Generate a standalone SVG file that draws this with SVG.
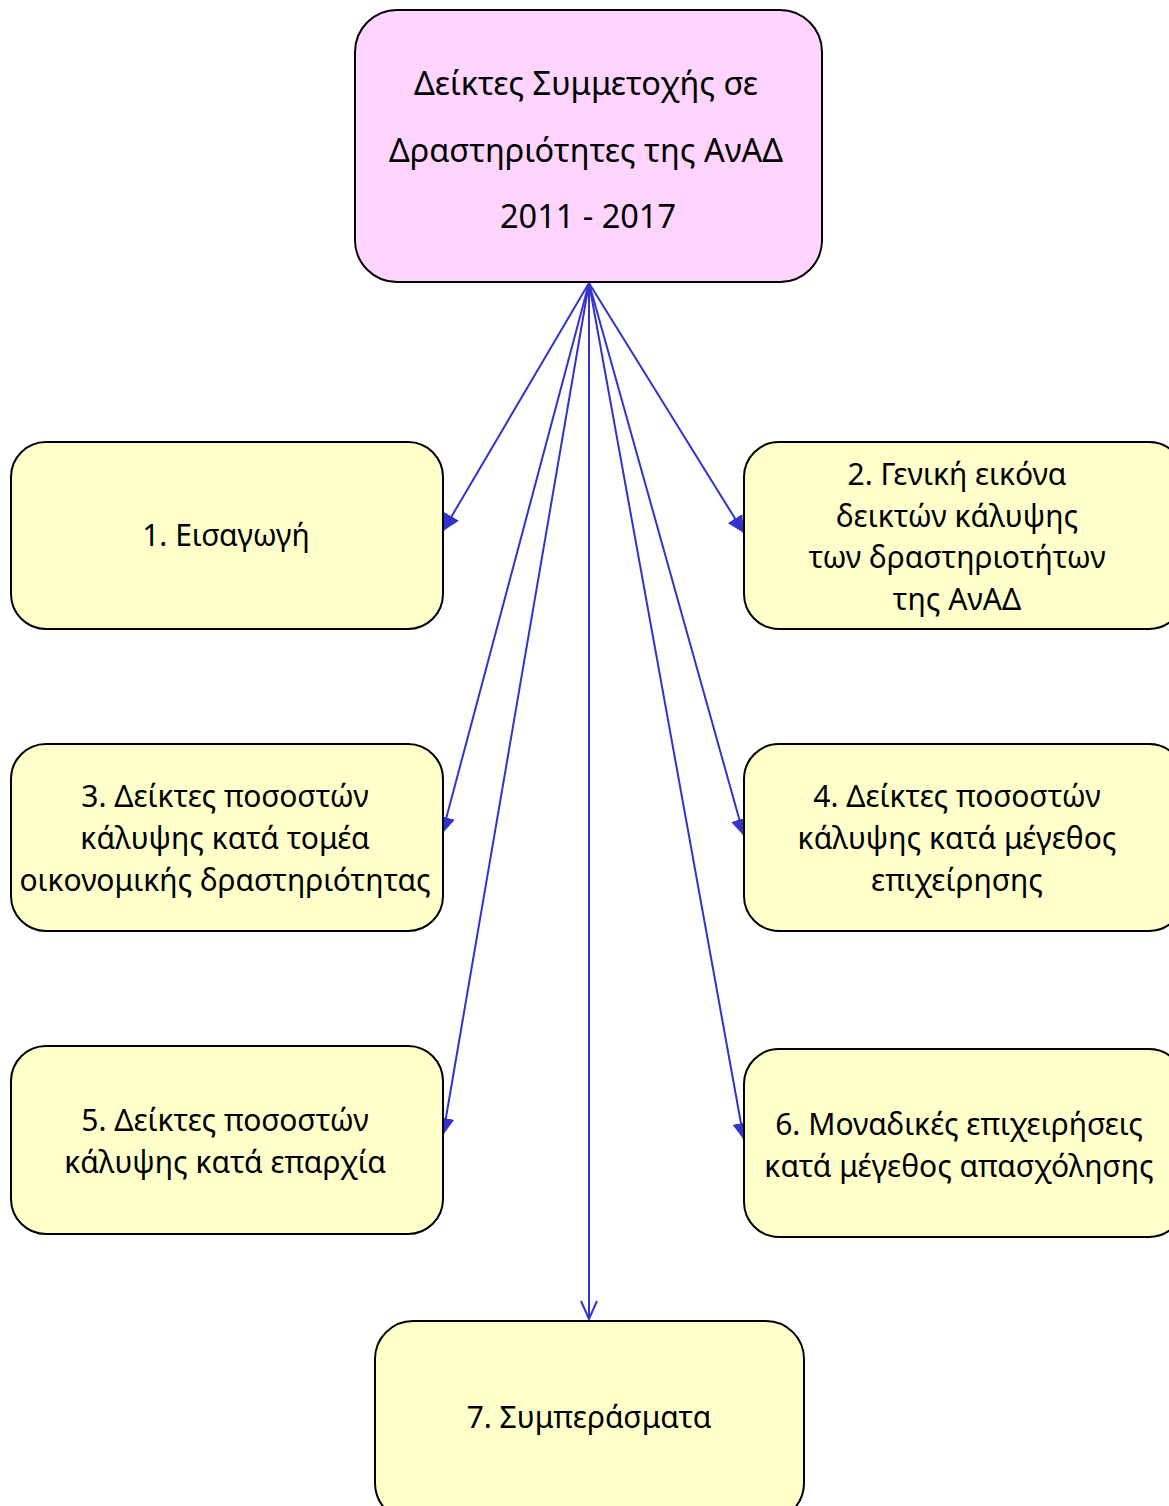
<svg xmlns="http://www.w3.org/2000/svg" width="1169" height="1506" viewBox="0 0 1169 1506">
<defs>
<style>
.box{fill:#FFFFCC;stroke:#000;stroke-width:2}
.top{fill:#FFD5FF;stroke:#000;stroke-width:2}
text{font-family:"Noto Sans","Open Sans","DejaVu Sans",sans-serif;font-size:30px;fill:#000;text-anchor:middle}
.ttl{font-size:32.5px}
.c{stroke:#3333CC;stroke-width:2;fill:none}
</style>
<marker id="ah" viewBox="0 0 10 10" refX="10" refY="5" markerWidth="17" markerHeight="17" markerUnits="userSpaceOnUse" orient="auto">
<path d="M0,0 L10,5 L0,10 z" fill="#3333CC"/>
</marker>
<marker id="ao" viewBox="0 0 20 20" refX="19" refY="10" markerWidth="20" markerHeight="20" markerUnits="userSpaceOnUse" orient="auto">
<path d="M1,2 L19,10 L1,18" fill="none" stroke="#3333CC" stroke-width="2"/>
</marker>
</defs>
<rect width="1169" height="1506" fill="#fff"/>
<g id="connectors">
<line class="c" x1="589" y1="283" x2="443" y2="531" marker-end="url(#ah)"/>
<line class="c" x1="589" y1="283" x2="744" y2="533" marker-end="url(#ah)"/>
<line class="c" x1="589" y1="283" x2="442" y2="834" marker-end="url(#ah)"/>
<line class="c" x1="589" y1="283" x2="744" y2="836" marker-end="url(#ah)"/>
<line class="c" x1="589" y1="283" x2="443" y2="1135" marker-end="url(#ah)"/>
<line class="c" x1="589" y1="283" x2="744" y2="1140" marker-end="url(#ah)"/>
<line class="c" x1="589" y1="283" x2="589" y2="1319" marker-end="url(#ao)"/>
</g>
<g id="node-top">
<rect class="top" x="355" y="10" width="467" height="272" rx="42"/>
<text class="ttl" x="586" y="95">Δείκτες Συμμετοχής σε</text>
<text class="ttl" x="586" y="162">Δραστηριότητες της ΑνΑΔ</text>
<text class="ttl" x="588" y="228">2011 - 2017</text>
</g>
<g id="node-1">
<rect class="box" x="11" y="442" width="432" height="187" rx="35"/>
<text x="226" y="546">1. Εισαγωγή</text>
</g>
<g id="node-2">
<rect class="box" x="744" y="442" width="440" height="187" rx="35"/>
<text x="957" y="485">2. Γενική εικόνα</text>
<text x="957" y="527">δεικτών κάλυψης</text>
<text x="957" y="568">των δραστηριοτήτων</text>
<text x="957" y="610">της ΑνΑΔ</text>
</g>
<g id="node-3">
<rect class="box" x="11" y="744" width="432" height="187" rx="35"/>
<text x="225" y="807">3. Δείκτες ποσοστών</text>
<text x="225" y="849">κάλυψης κατά τομέα</text>
<text x="225" y="891">οικονομικής δραστηριότητας</text>
</g>
<g id="node-4">
<rect class="box" x="744" y="744" width="440" height="187" rx="35"/>
<text x="957" y="807">4. Δείκτες ποσοστών</text>
<text x="957" y="849">κάλυψης κατά μέγεθος</text>
<text x="957" y="891">επιχείρησης</text>
</g>
<g id="node-5">
<rect class="box" x="11" y="1046" width="432" height="188" rx="35"/>
<text x="225" y="1131">5. Δείκτες ποσοστών</text>
<text x="225" y="1173">κάλυψης κατά επαρχία</text>
</g>
<g id="node-6">
<rect class="box" x="744" y="1049" width="440" height="188" rx="35"/>
<text x="959" y="1135">6. Μοναδικές επιχειρήσεις</text>
<text x="959" y="1177">κατά μέγεθος απασχόλησης</text>
</g>
<g id="node-7">
<rect class="box" x="375" y="1321" width="429" height="200" rx="38"/>
<text x="589" y="1428">7. Συμπεράσματα</text>
</g>
</svg>
